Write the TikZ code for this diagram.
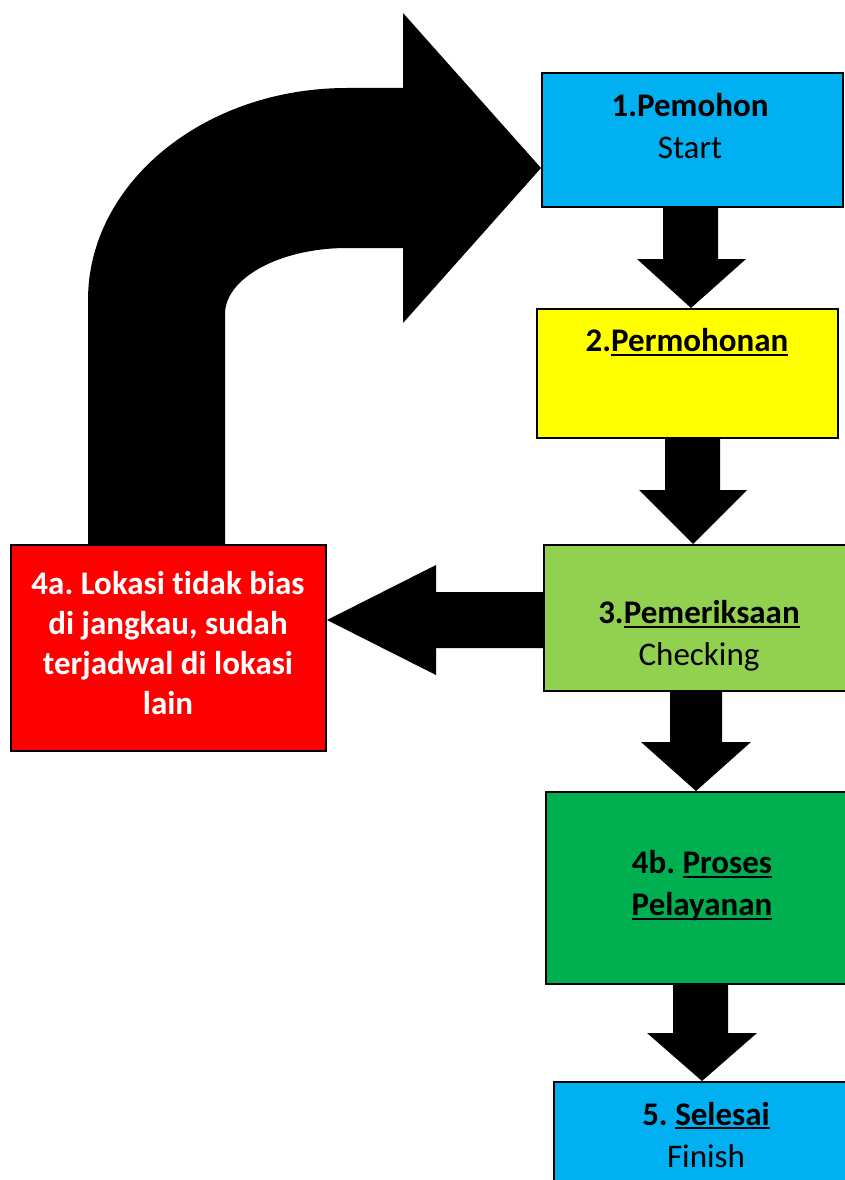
\documentclass[tikz,border=0pt]{standalone}
\usepackage{fontspec}
\setmainfont{Carlito}[Ligatures=NoCommon]
\frenchspacing
\pgfdeclarelayer{bg}
\pgfsetlayers{bg,main}
\definecolor{cblue}{HTML}{00B0F0}
\definecolor{cyellow}{HTML}{FFFF00}
\definecolor{clgreen}{HTML}{92D050}
\definecolor{cgreen}{HTML}{00B050}
\definecolor{cred}{HTML}{FF0000}
\newcommand{\uln}[1]{\setbox0\hbox{#1}\rlap{\rule[-4pt]{\wd0}{2pt}}\box0}
\newcommand{\blkdown}[8]{%
  \fill[black] (#1,0 |- #6.south) -- (#1,#5) -- (#3,#5) -- (#8,0 |- #7.north)
    -- (#4,#5) -- (#2,#5) -- (#2,0 |- #6.south) -- cycle;}
\tikzset{
  box/.style={draw=black, line width=2pt, inner sep=0pt},
  lbl/.style={font=\fontsize{33}{42}\selectfont, align=center, text=black, inner sep=0pt},
}
\begin{document}
\begin{tikzpicture}[x=1pt,y=-1pt]
\useasboundingbox (0,0) rectangle (845,1180);
\clip (0,0) rectangle (845,1180);
% boxes
\node[box, fill=cblue, minimum width=301pt, minimum height=134pt] (b1) at (692.5,140) {};
\node[box, fill=cyellow, minimum width=301pt, minimum height=129pt] (b2) at (687.5,373.5) {};
\node[box, fill=clgreen, minimum width=310pt, minimum height=146pt] (b3) at (699,618) {};
\node[box, fill=cred, minimum width=315pt, minimum height=206pt] (r4a) at (168.5,648) {};
\node[box, fill=cgreen, minimum width=312pt, minimum height=192pt] (b4b) at (702,888) {};
\node[box, fill=cblue, minimum width=304pt, minimum height=118pt] (b5) at (706,1141) {};
% labels
\node[lbl] (t1) at (690,126) {\bfseries 1.Pemohon\\Start};
\node[lbl] (t2) at (687,342) {\bfseries 2.\uln{Permohonan}};
\node[lbl] (t3) at (699,636) {\bfseries 3.\uln{Pemeriksaan}\\Checking};
\node[lbl, text=white, font=\fontsize{33}{40}\selectfont\bfseries] (t4a) at (168,643)
  {4a. Lokasi tidak bias\\di jangkau, sudah\\terjadwal di lokasi\\lain};
\node[lbl] (t4b) at (702,886) {\bfseries 4b. \uln{Proses}\\\bfseries\uln{Pelayanan}};
\node[lbl] (t5) at (706,1135) {\bfseries 5. \uln{Selesai}\\Finish};
% arrows
\begin{pgfonlayer}{bg}
\blkdown{663}{718}{637}{746}{259}{b1}{b2}{691}
\blkdown{665}{720}{639}{747}{490}{b2}{b3}{693}
\blkdown{670}{722}{641}{751}{742}{b3}{b4b}{696}
\blkdown{673}{728}{647}{757}{1033}{b4b}{b5}{702}
% left arrow 3 -> 4a
\fill[black] (b3.west |- 0,592) -- (436,592) -- (436,565) -- (r4a.east |- 0,620)
  -- (436,675) -- (436,648) -- (b3.west |- 0,648) -- cycle;
% bent arrow 4a -> 1
\fill[black] (88,0 |- r4a.north) -- (88,300) .. controls (88,183) and (204,88) .. (347,88)
  -- (403,88) -- (403,13) -- (b1.west |- 0,168) -- (403,323) -- (403,248) -- (347,248)
  .. controls (280,248) and (225,278) .. (225,314) -- (225,0 |- r4a.north) -- cycle;
\end{pgfonlayer}
\end{tikzpicture}
\end{document}
